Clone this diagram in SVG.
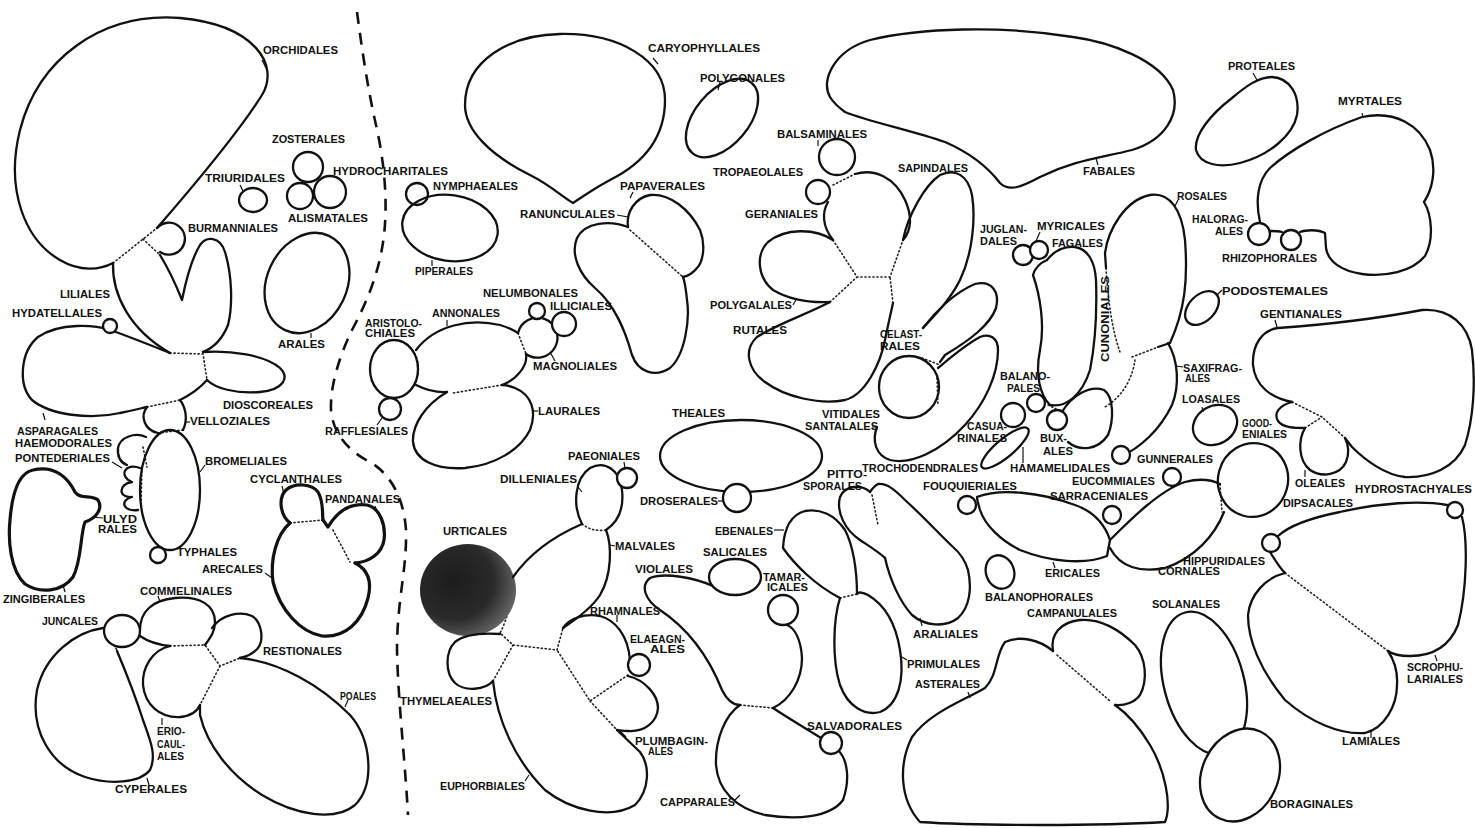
<svg xmlns="http://www.w3.org/2000/svg" width="1475" height="828" viewBox="0 0 1475 828">
<defs>
<style>
.o{fill:none;stroke:#111;stroke-width:2.3;stroke-linejoin:round;stroke-linecap:round}
.ob{fill:none;stroke:#111;stroke-width:3.2;stroke-linejoin:round;stroke-linecap:round}
.w{fill:#fff;stroke:#111;stroke-width:2.3}
.d{fill:none;stroke:#222;stroke-width:1.6;stroke-dasharray:1.2 2.8;stroke-linecap:round}
.k{fill:none;stroke:#111;stroke-width:1.2}
.t{font-family:"Liberation Sans",Arial,sans-serif;font-weight:bold;font-size:10px;fill:#111}
.sep{fill:none;stroke:#111;stroke-width:2.6;stroke-dasharray:12 9}
</style>
<radialGradient id="dark" cx="0.35" cy="0.4" r="0.7">
<stop offset="0" stop-color="#1c1c1c"/>
<stop offset="0.6" stop-color="#2a2a2a"/>
<stop offset="1" stop-color="#6a6a6a"/>
</radialGradient>
</defs>
<rect width="1475" height="828" fill="#fff"/>

<g id="connectors">
<path class="sep" d="M357,12 C362,50 368,90 376,125 C384,160 388,200 384,235 C380,270 368,300 352,330 C340,355 330,385 331,410 C333,435 350,452 370,462 C392,475 404,500 406,530 C407,570 397,600 397,650 C398,700 405,760 408,815"/>
<path class="d" d="M113,263 L157,228 M143,239 L160,255 M170,353 L203,354 L207,380 M147,407 L180,400 M158,433 L183,430 M142,467 L141,505 M143,447 L147,467"/>
<path class="d" d="M290,523 L323,520 M333,530 L350,562 M170,646 L205,645 L220,666 L240,658 M220,666 L200,705 M103,628 L117,650"/>
<path class="d" d="M630,230 L683,277 M518,333 L526,354 M502,385 L453,393 M410,347 A24,29 0 0,1 410,391 M530,306 L540,318"/>
<path class="d" d="M582,524 Q592,532 606,530 M513,577 Q512,610 500,633 L513,645 L557,650 L563,628 M513,645 L493,681 M628,675 L590,701 L557,650 M590,701 L617,730 M740,705 L773,708 M840,598 L857,594 M872,495 L878,525 M713,586 L738,596"/>
<path class="d" d="M833,185 L855,174 M833,240 L857,277 L890,277 L903,240 M830,302 L857,277 M893,303 L890,277 M922,358 L940,365 M937,378 L938,405"/>
<path class="d" d="M1106,268 C1108,300 1112,330 1120,352 M1132,357 L1158,347 M1135,360 C1133,375 1125,395 1105,407 M1220,484 L1222,512 M1292,402 L1322,417 L1345,438 M1305,428 L1322,417 M1388,651 L1285,573 M1217,751 L1240,735 M1057,655 L1110,701 M1048,405 L1062,412"/>
</g>

<g id="orchidales">
<path class="o" d="M157,228 C190,190 240,130 262,95 C280,65 255,25 180,18 C100,12 38,60 20,130 C5,190 25,240 60,260 C80,272 100,270 113,263"/>
<path class="k" d="M262,60 L266,68"/>
<text class="t" x="263" y="54" textLength="75" lengthAdjust="spacingAndGlyphs">ORCHIDALES</text>
</g>
<g id="burmanniales">
<path class="o" d="M157,228 A16,16 0 1,1 160,252"/>
<text class="t" x="188" y="232" textLength="90" lengthAdjust="spacingAndGlyphs">BURMANNIALES</text>
</g>
<g id="liliales">
<path class="o" d="M113,263 C112,295 130,330 170,353"/>
<path class="o" d="M160,255 C168,268 176,285 182,300 C186,280 192,258 200,245 C206,236 220,236 225,252 C232,275 233,305 228,325 C222,340 213,348 203,352"/>
<text class="t" x="60" y="298" textLength="50" lengthAdjust="spacingAndGlyphs">LILIALES</text>
</g>
<g id="asparagales">
<path class="o" d="M170,353 C150,345 125,335 110,330 C95,325 60,322 38,337 C20,352 18,385 32,400 C50,415 90,420 120,413 C135,410 142,408 147,407 M180,400 C190,395 200,388 207,380"/>
<path class="k" d="M43,413 L45,420"/>
<text class="t" x="17" y="435" textLength="81" lengthAdjust="spacingAndGlyphs">ASPARAGALES</text>
</g>
<g id="hydatellales">
<circle class="w" cx="110" cy="326" r="7"/>
<text class="t" x="12" y="317" textLength="90" lengthAdjust="spacingAndGlyphs">HYDATELLALES</text>
</g>
<g id="dioscoreales">
<path class="o" d="M203,352 C230,350 265,355 280,368 C290,378 283,390 260,392 C235,394 215,388 207,380"/>
<text class="t" x="223" y="409" textLength="90" lengthAdjust="spacingAndGlyphs">DIOSCOREALES</text>
</g>
<g id="velloziales">
<path class="o" d="M147,407 C140,416 144,430 158,433 M183,430 C188,420 186,408 180,400"/>
<path class="k" d="M186,422 L190,422"/>
<text class="t" x="190" y="425" textLength="80" lengthAdjust="spacingAndGlyphs">VELLOZIALES</text>
</g>
<g id="bromeliales">
<ellipse class="o" cx="170" cy="490" rx="30" ry="60"/>
<path class="k" d="M205,465 L200,472"/>
<text class="t" x="205" y="465" textLength="82" lengthAdjust="spacingAndGlyphs">BROMELIALES</text>
</g>
<g id="haemodorales">
<path class="o" d="M146,437 C135,432 120,437 118,448 C117,458 122,463 127,465"/>
<text class="t" x="15" y="447" textLength="97" lengthAdjust="spacingAndGlyphs">HAEMODORALES</text>
</g>
<g id="pontederiales">
<path class="o" d="M140,468 C125,462 118,476 132,482 C118,484 118,498 132,497 C120,500 122,512 138,510"/>
<path class="k" d="M112,462 L122,468"/>
<text class="t" x="15" y="462" textLength="95" lengthAdjust="spacingAndGlyphs">PONTEDERIALES</text>
</g>
<g id="philydrales">
<path class="k" d="M92,517 L103,518"/>
<text class="t" x="103" y="523" textLength="34" lengthAdjust="spacingAndGlyphs">ULYD</text>
<text class="t" x="98" y="533" textLength="39" lengthAdjust="spacingAndGlyphs">RALES</text>
</g>
<g id="typhales">
<circle class="w" cx="158" cy="555" r="8"/>
<text class="t" x="177" y="556" textLength="60" lengthAdjust="spacingAndGlyphs">TYPHALES</text>
</g>
<g id="zingiberales">
<path class="ob" d="M33,470 C55,465 68,478 75,492 C80,500 92,494 98,500 C103,508 97,518 85,522 C80,535 82,560 73,577 C62,592 40,594 25,584 C10,570 8,540 10,520 C12,495 18,473 33,470 Z"/>
<path class="k" d="M63,585 L65,592"/>
<text class="t" x="3" y="603" textLength="82" lengthAdjust="spacingAndGlyphs">ZINGIBERALES</text>
</g>
<g id="cyclanthales">
<path class="ob" d="M290,523 C280,515 278,498 286,490 C295,482 312,484 318,492 C324,502 322,515 323,520"/>
<path class="k" d="M282,486 L284,494"/>
<text class="t" x="250" y="483" textLength="92" lengthAdjust="spacingAndGlyphs">CYCLANTHALES</text>
</g>
<g id="pandanales">
<path class="ob" d="M323,520 L328,527 C338,510 352,503 367,505 C380,508 386,525 384,540 C382,553 370,562 355,563"/>
<path class="k" d="M375,506 L378,514"/>
<text class="t" x="325" y="503" textLength="75" lengthAdjust="spacingAndGlyphs">PANDANALES</text>
</g>
<g id="arecales">
<path class="ob" d="M290,523 C276,535 270,560 273,582 C280,610 300,632 322,636 C345,638 362,622 368,598 C372,582 369,570 355,563"/>
<path class="k" d="M265,573 L272,578"/>
<text class="t" x="202" y="573" textLength="61" lengthAdjust="spacingAndGlyphs">ARECALES</text>
</g>
<g id="juncales">
<ellipse class="w" cx="122" cy="631" rx="18" ry="16"/>
<text class="t" x="42" y="625" textLength="56" lengthAdjust="spacingAndGlyphs">JUNCALES</text>
</g>
<g id="commelinales">
<path class="o" d="M140,630 C140,612 152,600 175,598 C200,596 215,605 215,622 C215,632 210,638 205,645 M140,636 C150,643 160,645 170,646"/>
<path class="k" d="M158,596 L160,602"/>
<text class="t" x="140" y="595" textLength="92" lengthAdjust="spacingAndGlyphs">COMMELINALES</text>
</g>
<g id="restionales">
<path class="o" d="M212,628 C222,614 240,611 252,616 C262,622 264,640 258,648 C253,654 245,657 240,658"/>
<text class="t" x="263" y="655" textLength="79" lengthAdjust="spacingAndGlyphs">RESTIONALES</text>
</g>
<g id="eriocaulales">
<path class="o" d="M170,646 C152,650 142,668 143,685 C145,705 160,718 180,717 C190,716 197,712 200,705"/>
<path class="k" d="M162,718 L162,725"/>
<text class="t" x="157" y="735" textLength="28" lengthAdjust="spacingAndGlyphs">ERIO-</text>
<text class="t" x="157" y="748" textLength="28" lengthAdjust="spacingAndGlyphs">CAUL-</text>
<text class="t" x="157" y="760" textLength="27" lengthAdjust="spacingAndGlyphs">ALES</text>
</g>
<g id="cyperales">
<path class="o" d="M103,628 C75,632 45,655 37,690 C30,730 50,765 85,777 C110,785 140,783 150,770 C157,755 150,740 143,720 C135,695 125,670 117,651"/>
<path class="k" d="M147,778 L149,785"/>
<text class="t" x="115" y="793" textLength="72" lengthAdjust="spacingAndGlyphs">CYPERALES</text>
</g>
<g id="poales">
<path class="o" d="M240,658 C280,662 320,685 350,715 C372,740 375,785 355,805 C335,822 295,815 262,795 C230,775 207,745 200,715 L200,705"/>
<path class="k" d="M345,707 L348,700"/>
<text class="t" x="340" y="700" textLength="36" lengthAdjust="spacingAndGlyphs">POALES</text>
</g>
<g id="triuridales">
<ellipse class="o" cx="253" cy="200" rx="14" ry="12"/>
<path class="k" d="M240,185 L243,191"/>
<text class="t" x="205" y="182" textLength="80" lengthAdjust="spacingAndGlyphs">TRIURIDALES</text>
</g>
<g id="alismatales">
<circle class="w" cx="300" cy="196" r="13"/>
<text class="t" x="288" y="222" textLength="80" lengthAdjust="spacingAndGlyphs">ALISMATALES</text>
</g>
<g id="hydrocharitales">
<circle class="w" cx="330" cy="192" r="16"/>
<text class="t" x="333" y="175" textLength="115" lengthAdjust="spacingAndGlyphs">HYDROCHARITALES</text>
</g>
<g id="zosterales">
<circle class="w" cx="308" cy="167" r="15"/>
<text class="t" x="272" y="143" textLength="73" lengthAdjust="spacingAndGlyphs">ZOSTERALES</text>
</g>
<g id="arales">
<ellipse class="o" cx="307" cy="283" rx="40" ry="52" transform="rotate(25 307 283)"/>
<path class="k" d="M311,333 L311,338"/>
<text class="t" x="278" y="348" textLength="47" lengthAdjust="spacingAndGlyphs">ARALES</text>
</g>

<g id="nymphaeales">
<circle class="w" cx="417" cy="194" r="11"/>
<text class="t" x="433" y="190" textLength="85" lengthAdjust="spacingAndGlyphs">NYMPHAEALES</text>
</g>
<g id="piperales">
<ellipse class="o" cx="450" cy="228" rx="48" ry="33" transform="rotate(8 450 228)"/>
<path class="k" d="M432,260 L432,266"/>
<text class="t" x="415" y="275" textLength="58" lengthAdjust="spacingAndGlyphs">PIPERALES</text>
</g>
<g id="caryophyllales">
<path class="o" d="M573,203 C560,195 550,185 530,175 C490,155 465,130 465,105 C465,60 510,35 560,34 C620,33 665,60 665,100 C665,140 640,165 610,180 C595,188 585,195 573,203 Z"/>
<path class="k" d="M653,58 L658,64"/>
<text class="t" x="648" y="52" textLength="112" lengthAdjust="spacingAndGlyphs">CARYOPHYLLALES</text>
</g>
<g id="polygonales">
<ellipse class="o" cx="722" cy="118" rx="27" ry="46" transform="rotate(40 722 118)"/>
<path class="k" d="M720,82 L718,90"/>
<text class="t" x="700" y="82" textLength="85" lengthAdjust="spacingAndGlyphs">POLYGONALES</text>
</g>
<g id="ranunculales">
<path class="o" d="M628,227 C610,220 585,222 577,238 C570,255 580,275 595,288 C615,305 625,330 632,355 C638,372 655,378 670,368 C685,355 690,320 687,300 C686,290 685,282 683,277"/>
<path class="k" d="M617,215 L628,217"/>
<text class="t" x="520" y="218" textLength="95" lengthAdjust="spacingAndGlyphs">RANUNCULALES</text>
</g>
<g id="papaverales">
<path class="o" d="M628,227 C626,212 635,198 650,195 C670,193 690,210 700,230 C706,245 703,262 697,268 C693,273 688,276 683,277"/>
<path class="k" d="M633,192 L630,198"/>
<text class="t" x="620" y="190" textLength="85" lengthAdjust="spacingAndGlyphs">PAPAVERALES</text>
</g>
<g id="aristolochiales">
<ellipse class="o" cx="394" cy="369" rx="24" ry="29"/>
<text class="t" x="365" y="327" textLength="57" lengthAdjust="spacingAndGlyphs">ARISTOLO-</text>
<text class="t" x="365" y="337" textLength="50" lengthAdjust="spacingAndGlyphs">CHIALES</text>
</g>
<g id="rafflesiales">
<circle class="w" cx="390" cy="409" r="11"/>
<path class="k" d="M377,425 L382,418"/>
<text class="t" x="325" y="435" textLength="83" lengthAdjust="spacingAndGlyphs">RAFFLESIALES</text>
</g>
<g id="annonales">
<path class="o" d="M416,350 C435,325 470,318 500,325 C510,328 515,331 518,333 M526,354 C528,366 516,380 502,385 M447,392 C432,393 422,388 416,385"/>
<path class="k" d="M447,320 L447,326"/>
<text class="t" x="432" y="317" textLength="68" lengthAdjust="spacingAndGlyphs">ANNONALES</text>
</g>
<g id="magnoliales">
<path class="o" d="M518,333 A20,20 0 1,1 526,354"/>
<path class="k" d="M550,352 L555,361"/>
<text class="t" x="533" y="370" textLength="84" lengthAdjust="spacingAndGlyphs">MAGNOLIALES</text>
</g>
<g id="nelumbonales">
<circle class="w" cx="537" cy="311" r="8"/>
<text class="t" x="483" y="297" textLength="95" lengthAdjust="spacingAndGlyphs">NELUMBONALES</text>
</g>
<g id="illiciales">
<circle class="w" cx="564" cy="324" r="12"/>
<text class="t" x="550" y="310" textLength="62" lengthAdjust="spacingAndGlyphs">ILLICIALES</text>
</g>
<g id="laurales">
<path class="o" d="M447,392 C425,405 412,425 413,442 C415,460 435,470 465,468 C495,465 520,450 530,430 C537,412 532,395 515,388 C510,386 505,385 502,385"/>
<path class="k" d="M533,411 L538,411"/>
<text class="t" x="538" y="415" textLength="62" lengthAdjust="spacingAndGlyphs">LAURALES</text>
</g>
<g id="theales">
<ellipse class="o" cx="741" cy="456" rx="81" ry="36"/>
<text class="t" x="672" y="417" textLength="53" lengthAdjust="spacingAndGlyphs">THEALES</text>
</g>
<g id="droserales">
<circle class="w" cx="737" cy="498" r="14"/>
<path class="k" d="M718,501 L723,501"/>
<text class="t" x="640" y="505" textLength="78" lengthAdjust="spacingAndGlyphs">DROSERALES</text>
</g>
<g id="dilleniales">
<path class="o" d="M582,524 C572,505 575,478 590,468 C605,460 620,470 622,490 C624,508 618,522 606,530"/>
<path class="k" d="M578,487 L582,492"/>
<text class="t" x="500" y="483" textLength="77" lengthAdjust="spacingAndGlyphs">DILLENIALES</text>
</g>
<g id="paeoniales">
<circle class="w" cx="627" cy="478" r="10"/>
<path class="k" d="M624,462 L625,468"/>
<text class="t" x="568" y="460" textLength="72" lengthAdjust="spacingAndGlyphs">PAEONIALES</text>
</g>
<g id="urticales">
<ellipse cx="468" cy="590" rx="48" ry="46" fill="url(#dark)"/>
<text class="t" x="443" y="535" textLength="64" lengthAdjust="spacingAndGlyphs">URTICALES</text>
</g>
<g id="malvales">
<path class="o" d="M513,577 C525,560 545,540 582,524 M606,530 C612,545 612,575 600,595 C592,608 575,620 563,628"/>
<path class="k" d="M610,545 L615,546"/>
<text class="t" x="615" y="550" textLength="60" lengthAdjust="spacingAndGlyphs">MALVALES</text>
</g>
<g id="thymelaeales">
<path class="o" d="M493,681 C485,690 465,692 455,683 C445,673 445,652 455,642 C465,634 485,633 500,634"/>
<text class="t" x="400" y="705" textLength="92" lengthAdjust="spacingAndGlyphs">THYMELAEALES</text>
</g>
<g id="euphorbiales">
<path class="o" d="M493,681 C497,720 515,760 545,790 C570,810 610,820 635,805 C650,790 650,765 640,752 L617,730"/>
<path class="k" d="M525,781 L529,775"/>
<text class="t" x="440" y="790" textLength="85" lengthAdjust="spacingAndGlyphs">EUPHORBIALES</text>
</g>
<g id="rhamnales">
<path class="o" d="M563,628 C570,618 585,613 600,616 C615,620 628,635 630,660"/>
<path class="k" d="M617,615 L617,622"/>
<text class="t" x="590" y="615" textLength="70" lengthAdjust="spacingAndGlyphs">RHAMNALES</text>
</g>
<g id="elaeagnales">
<circle class="w" cx="639" cy="665" r="11"/>
<text class="t" x="630" y="643" textLength="55" lengthAdjust="spacingAndGlyphs">ELAEAGN-</text>
<text class="t" x="650" y="653" textLength="35" lengthAdjust="spacingAndGlyphs">ALES</text>
</g>
<g id="plumbaginales">
<path class="o" d="M628,676 C645,680 658,695 658,708 C657,722 645,732 628,731 C622,731 619,730 617,730"/>
<path class="k" d="M620,731 L626,737"/>
<text class="t" x="635" y="745" textLength="73" lengthAdjust="spacingAndGlyphs">PLUMBAGIN-</text>
<text class="t" x="648" y="755" textLength="25" lengthAdjust="spacingAndGlyphs">ALES</text>
</g>
<g id="violales">
<path class="o" d="M713,586 C695,578 665,572 650,578 C640,586 645,600 660,610 C690,630 710,660 722,690 C727,700 732,705 740,705 M773,708 C790,700 802,680 802,658 C801,640 795,628 787,625"/>
<text class="t" x="635" y="573" textLength="58" lengthAdjust="spacingAndGlyphs">VIOLALES</text>
</g>
<g id="salicales">
<ellipse class="w" cx="735" cy="577" rx="26" ry="18"/>
<text class="t" x="703" y="556" textLength="64" lengthAdjust="spacingAndGlyphs">SALICALES</text>
</g>
<g id="tamaricales">
<circle class="w" cx="783" cy="610" r="15"/>
<text class="t" x="763" y="581" textLength="42" lengthAdjust="spacingAndGlyphs">TAMAR-</text>
<text class="t" x="767" y="591" textLength="41" lengthAdjust="spacingAndGlyphs">ICALES</text>
</g>
<g id="capparales">
<path class="o" d="M740,705 C725,715 715,740 716,765 C718,790 735,808 765,815 C795,820 830,818 843,800 C850,780 848,760 838,750 M821,738 C805,728 788,718 773,708"/>
<path class="k" d="M735,800 L740,795"/>
<text class="t" x="660" y="806" textLength="75" lengthAdjust="spacingAndGlyphs">CAPPARALES</text>
</g>
<g id="salvadorales">
<circle class="w" cx="831" cy="743" r="11"/>
<text class="t" x="807" y="730" textLength="95" lengthAdjust="spacingAndGlyphs">SALVADORALES</text>
</g>
<g id="ebenales">
<path class="o" d="M783,548 C784,530 790,515 805,511 C820,508 835,515 845,530 C853,545 857,570 857,594 M783,548 C795,565 815,585 840,598"/>
<path class="k" d="M774,530 L784,530"/>
<text class="t" x="715" y="535" textLength="58" lengthAdjust="spacingAndGlyphs">EBENALES</text>
</g>
<g id="primulales">
<path class="o" d="M840,598 C833,620 832,660 840,685 C848,707 865,716 880,712 C898,705 905,680 900,650 C896,625 885,605 868,595 C862,592 858,592 857,594"/>
<path class="k" d="M902,657 L907,660"/>
<text class="t" x="907" y="668" textLength="73" lengthAdjust="spacingAndGlyphs">PRIMULALES</text>
</g>
<g id="pittosporales">
<path class="o" d="M870,492 C862,484 845,485 840,497 C836,512 845,530 860,540 C872,548 880,553 885,558"/>
<text class="t" x="827" y="478" textLength="40" lengthAdjust="spacingAndGlyphs">PITTO-</text>
<text class="t" x="803" y="490" textLength="59" lengthAdjust="spacingAndGlyphs">SPORALES</text>
</g>
<g id="araliales">
<path class="o" d="M885,558 C890,580 900,602 912,615 C925,626 945,628 958,618 C970,607 972,588 968,570 C965,560 960,553 953,547 C940,535 925,518 905,500 C895,490 887,483 878,484 C874,486 872,489 870,492"/>
<path class="k" d="M920,618 L922,626"/>
<text class="t" x="913" y="638" textLength="65" lengthAdjust="spacingAndGlyphs">ARALIALES</text>
</g>

<g id="fabales">
<path class="o" d="M830,97 C820,80 835,50 870,40 C920,28 1000,25 1073,37 C1110,42 1160,60 1173,90 C1180,115 1165,140 1132,150 C1100,158 1075,160 1040,177 C1025,185 1010,193 1000,183 C990,170 975,155 945,142 C910,130 870,122 845,112 C838,107 833,102 830,97 Z"/>
<path class="k" d="M1096,158 L1098,165"/>
<text class="t" x="1083" y="175" textLength="52" lengthAdjust="spacingAndGlyphs">FABALES</text>
</g>
<g id="balsaminales">
<circle class="w" cx="837" cy="157" r="18"/>
<path class="k" d="M818,140 L818,146"/>
<text class="t" x="777" y="138" textLength="90" lengthAdjust="spacingAndGlyphs">BALSAMINALES</text>
</g>
<g id="tropaeolales">
<circle class="w" cx="818" cy="192" r="12"/>
<text class="t" x="713" y="176" textLength="90" lengthAdjust="spacingAndGlyphs">TROPAEOLALES</text>
</g>
<g id="geraniales">
<path class="o" d="M855,174 C875,168 895,178 905,200 C912,215 912,230 903,240 M828,202 C822,212 822,226 833,240"/>
<text class="t" x="745" y="218" textLength="73" lengthAdjust="spacingAndGlyphs">GERANIALES</text>
</g>
<g id="sapindales">
<path class="o" d="M903,240 C908,215 925,185 940,175 C955,168 968,175 972,195 C976,220 972,255 960,280 C950,300 935,315 923,328"/>
<text class="t" x="898" y="172" textLength="70" lengthAdjust="spacingAndGlyphs">SAPINDALES</text>
</g>
<g id="polygalales">
<path class="o" d="M833,240 C815,228 785,228 768,242 C755,255 758,278 773,290 C790,300 810,303 830,302"/>
<path class="k" d="M793,305 L797,298"/>
<text class="t" x="710" y="309" textLength="82" lengthAdjust="spacingAndGlyphs">POLYGALALES</text>
</g>
<g id="rutales">
<path class="o" d="M830,302 C805,315 775,325 757,337 C743,350 748,370 765,382 C785,397 820,405 845,400 C865,395 880,365 885,340 C888,325 891,312 893,303"/>
<text class="t" x="733" y="334" textLength="54" lengthAdjust="spacingAndGlyphs">RUTALES</text>
</g>
<g id="celastrales">
<path class="o" d="M923,328 C935,312 955,292 975,284 C992,280 1000,292 996,308 C990,325 970,340 945,355 L940,362"/>
<text class="t" x="880" y="338" textLength="42" lengthAdjust="spacingAndGlyphs">CELAST-</text>
<text class="t" x="880" y="350" textLength="40" lengthAdjust="spacingAndGlyphs">RALES</text>
</g>
<g id="vitidales">
<ellipse class="o" cx="909" cy="387" rx="30" ry="31"/>
<text class="t" x="822" y="418" textLength="58" lengthAdjust="spacingAndGlyphs">VITIDALES</text>
</g>
<g id="santalales">
<path class="o" d="M877,427 C872,440 875,455 890,460 C910,465 940,452 965,425 C985,403 998,375 998,350 C998,338 990,333 980,337 C965,345 950,358 938,368"/>
<path class="k" d="M878,427 L872,427"/>
<text class="t" x="805" y="430" textLength="73" lengthAdjust="spacingAndGlyphs">SANTALALES</text>
</g>
<g id="juglandales">
<circle class="w" cx="1023" cy="255" r="10"/>
<text class="t" x="980" y="233" textLength="47" lengthAdjust="spacingAndGlyphs">JUGLAN-</text>
<text class="t" x="980" y="245" textLength="37" lengthAdjust="spacingAndGlyphs">DALES</text>
</g>
<g id="myricales">
<circle class="w" cx="1039" cy="250" r="9"/>
<path class="k" d="M1040,232 L1036,241"/>
<text class="t" x="1037" y="230" textLength="68" lengthAdjust="spacingAndGlyphs">MYRICALES</text>
</g>
<g id="fagales">
<path class="o" d="M1047,260 C1055,250 1065,246 1075,247 C1088,249 1095,262 1096,280 C1097,310 1095,345 1090,370 C1082,395 1066,408 1050,405 C1040,395 1035,375 1040,350 C1045,325 1040,295 1033,275 C1035,268 1040,263 1047,260"/>
<path class="k" d="M1080,248 L1085,252"/>
<text class="t" x="1052" y="247" textLength="51" lengthAdjust="spacingAndGlyphs">FAGALES</text>
</g>
<g id="cunoniales">
<text class="t" transform="translate(1109,362) rotate(-90)" x="0" y="0" textLength="86" lengthAdjust="spacingAndGlyphs">CUNONIALES</text>
</g>
<g id="balanopales">
<circle class="w" cx="1036" cy="403" r="9"/>
<text class="t" x="1000" y="380" textLength="50" lengthAdjust="spacingAndGlyphs">BALANO-</text>
<text class="t" x="1007" y="392" textLength="33" lengthAdjust="spacingAndGlyphs">PALES</text>
</g>
<g id="casuarinales">
<circle class="w" cx="1013" cy="415" r="12"/>
<text class="t" x="967" y="430" textLength="40" lengthAdjust="spacingAndGlyphs">CASUA-</text>
<text class="t" x="957" y="442" textLength="50" lengthAdjust="spacingAndGlyphs">RINALES</text>
</g>
<g id="trochodendrales">
<ellipse class="o" cx="1005" cy="448" rx="30" ry="9" transform="rotate(-40 1005 448)"/>
<text class="t" x="862" y="472" textLength="116" lengthAdjust="spacingAndGlyphs">TROCHODENDRALES</text>
</g>
<g id="hamamelidales">
<path class="o" d="M1062,412 C1072,395 1090,385 1104,390 C1114,397 1114,420 1108,435 C1098,450 1080,452 1068,442"/>
<path class="k" d="M1023,447 L1023,463"/>
<text class="t" x="1010" y="472" textLength="100" lengthAdjust="spacingAndGlyphs">HAMAMELIDALES</text>
</g>
<g id="buxales">
<circle class="w" cx="1057" cy="420" r="10"/>
<text class="t" x="1040" y="442" textLength="27" lengthAdjust="spacingAndGlyphs">BUX-</text>
<text class="t" x="1043" y="455" textLength="30" lengthAdjust="spacingAndGlyphs">ALES</text>
</g>
<g id="proteales">
<path class="o" d="M1272,77 C1290,78 1300,95 1297,115 C1293,135 1270,155 1240,163 C1220,168 1200,165 1196,150 C1194,135 1210,115 1232,98 C1245,87 1258,77 1272,77 Z"/>
<path class="k" d="M1253,73 L1257,80"/>
<text class="t" x="1228" y="70" textLength="67" lengthAdjust="spacingAndGlyphs">PROTEALES</text>
</g>
<g id="myrtales">
<path class="o" d="M1260,222 C1255,200 1258,180 1270,168 C1290,150 1325,130 1362,117 C1395,110 1420,125 1430,150 C1437,170 1432,190 1424,202 C1432,215 1434,240 1425,256 C1412,272 1385,277 1362,274 C1342,271 1328,262 1326,248 L1325,233 C1318,229 1305,230 1300,232 M1282,232 C1278,231 1273,231 1270,231"/>
<path class="k" d="M1362,113 L1363,118"/>
<text class="t" x="1338" y="105" textLength="64" lengthAdjust="spacingAndGlyphs">MYRTALES</text>
</g>
<g id="haloragales">
<circle class="w" cx="1259" cy="234" r="11"/>
<text class="t" x="1192" y="223" textLength="56" lengthAdjust="spacingAndGlyphs">HALORAG-</text>
<text class="t" x="1215" y="235" textLength="28" lengthAdjust="spacingAndGlyphs">ALES</text>
</g>
<g id="rhizophorales">
<circle class="w" cx="1291" cy="240" r="10"/>
<text class="t" x="1222" y="262" textLength="95" lengthAdjust="spacingAndGlyphs">RHIZOPHORALES</text>
</g>
<g id="rosales">
<path class="o" d="M1106,268 L1105,253 C1108,230 1125,200 1150,195 C1170,192 1182,210 1185,240 C1188,280 1185,310 1170,343 L1158,347"/>
<path class="k" d="M1178,200 L1175,206"/>
<text class="t" x="1177" y="200" textLength="50" lengthAdjust="spacingAndGlyphs">ROSALES</text>
</g>
<g id="saxifragales">
<path class="o" d="M1168,343 C1178,360 1180,385 1172,405 C1160,430 1140,448 1120,457"/>
<path class="k" d="M1175,366 L1183,367"/>
<text class="t" x="1183" y="372" textLength="59" lengthAdjust="spacingAndGlyphs">SAXIFRAG-</text>
<text class="t" x="1185" y="382" textLength="25" lengthAdjust="spacingAndGlyphs">ALES</text>
</g>
<g id="gunnerales">
<circle class="w" cx="1121" cy="455" r="9"/>
<text class="t" x="1137" y="463" textLength="76" lengthAdjust="spacingAndGlyphs">GUNNERALES</text>
</g>
<g id="podostemales">
<ellipse class="o" cx="1202" cy="308" rx="20" ry="13" transform="rotate(-45 1202 308)"/>
<path class="k" d="M1216,296 L1222,290"/>
<text class="t" x="1222" y="295" textLength="106" lengthAdjust="spacingAndGlyphs">PODOSTEMALES</text>
</g>
<g id="gentianales">
<path class="o" d="M1278,328 C1320,325 1370,320 1422,310 C1450,308 1468,325 1472,350 C1476,385 1473,420 1465,445 C1455,468 1430,478 1405,477 C1385,475 1365,460 1352,447 L1345,438 M1278,328 C1262,330 1252,345 1253,365 C1255,385 1270,398 1292,402"/>
<path class="k" d="M1275,320 L1277,327"/>
<text class="t" x="1260" y="318" textLength="82" lengthAdjust="spacingAndGlyphs">GENTIANALES</text>
</g>
<g id="goodeniales">
<path class="o" d="M1292,402 C1280,405 1273,413 1278,421 C1283,428 1295,428 1305,428"/>
<text class="t" x="1242" y="427" textLength="30" lengthAdjust="spacingAndGlyphs">GOOD-</text>
<text class="t" x="1242" y="438" textLength="45" lengthAdjust="spacingAndGlyphs">ENIALES</text>
</g>
<g id="oleales">
<path class="o" d="M1305,428 C1298,440 1298,460 1310,470 C1322,478 1340,475 1346,462 C1350,452 1348,444 1345,438"/>
<path class="k" d="M1305,470 L1305,477"/>
<text class="t" x="1295" y="487" textLength="50" lengthAdjust="spacingAndGlyphs">OLEALES</text>
</g>
<g id="loasales">
<ellipse class="o" cx="1215" cy="425" rx="23" ry="19" transform="rotate(-30 1215 425)"/>
<path class="k" d="M1202,407 L1203,412"/>
<text class="t" x="1182" y="403" textLength="58" lengthAdjust="spacingAndGlyphs">LOASALES</text>
</g>
<g id="dipsacales">
<ellipse class="o" cx="1253" cy="480" rx="35" ry="37" transform="rotate(15 1253 480)"/>
<text class="t" x="1283" y="507" textLength="70" lengthAdjust="spacingAndGlyphs">DIPSACALES</text>
</g>
<g id="cornales">
<path class="o" d="M1110,540 C1130,520 1160,490 1185,482 C1200,478 1212,480 1220,484 M1224,512 C1215,535 1195,558 1165,568 C1140,573 1120,567 1110,548"/>
<text class="t" x="1158" y="575" textLength="62" lengthAdjust="spacingAndGlyphs">CORNALES</text>
</g>
<g id="eucommiales">
<circle class="w" cx="1172" cy="477" r="9"/>
<text class="t" x="1072" y="485" textLength="83" lengthAdjust="spacingAndGlyphs">EUCOMMIALES</text>
</g>
<g id="sarraceniales">
<circle class="w" cx="1112" cy="515" r="9"/>
<text class="t" x="1050" y="500" textLength="98" lengthAdjust="spacingAndGlyphs">SARRACENIALES</text>
</g>
<g id="ericales">
<path class="o" d="M977,497 C1000,488 1040,492 1075,505 C1095,512 1105,525 1110,540 L1107,556 C1085,565 1050,562 1020,550 C1000,540 985,525 980,510 C978,503 977,500 977,497"/>
<path class="k" d="M1053,562 L1055,568"/>
<text class="t" x="1045" y="577" textLength="55" lengthAdjust="spacingAndGlyphs">ERICALES</text>
</g>
<g id="fouquieriales">
<circle class="w" cx="967" cy="505" r="9"/>
<text class="t" x="923" y="490" textLength="94" lengthAdjust="spacingAndGlyphs">FOUQUIERIALES</text>
</g>
<g id="balanophorales">
<ellipse class="o" cx="1000" cy="572" rx="14" ry="17" transform="rotate(-20 1000 572)"/>
<text class="t" x="985" y="601" textLength="108" lengthAdjust="spacingAndGlyphs">BALANOPHORALES</text>
</g>
<g id="campanulales">
<path class="o" d="M1053,651 C1050,635 1060,622 1080,620 C1100,618 1120,630 1135,645 C1146,658 1148,680 1140,695 C1135,702 1125,706 1115,705"/>
<text class="t" x="1027" y="617" textLength="90" lengthAdjust="spacingAndGlyphs">CAMPANULALES</text>
</g>
<g id="asterales">
<path class="o" d="M1053,651 C1040,640 1020,635 1005,642 C995,655 998,675 985,688 C965,700 930,712 912,737 C898,765 900,800 920,822 C980,826 1100,826 1165,822 C1172,805 1165,770 1150,745 C1138,725 1125,712 1115,705"/>
<path class="k" d="M968,692 L970,698"/>
<text class="t" x="915" y="688" textLength="65" lengthAdjust="spacingAndGlyphs">ASTERALES</text>
</g>
<g id="hippuridales">
<circle class="w" cx="1271" cy="543" r="9"/>
<text class="t" x="1183" y="565" textLength="82" lengthAdjust="spacingAndGlyphs">HIPPURIDALES</text>
</g>
<g id="scrophulariales">
<path class="o" d="M1278,536 C1290,525 1310,518 1340,512 C1380,503 1420,500 1447,505 M1462,517 C1468,540 1467,590 1458,625 C1450,645 1435,656 1410,656 C1400,656 1392,654 1388,651 M1270,552 C1275,560 1280,568 1285,573"/>
<path class="k" d="M1435,655 L1437,661"/>
<text class="t" x="1407" y="671" textLength="56" lengthAdjust="spacingAndGlyphs">SCROPHU-</text>
<text class="t" x="1407" y="683" textLength="56" lengthAdjust="spacingAndGlyphs">LARIALES</text>
</g>
<g id="hydrostachyales">
<circle class="w" cx="1455" cy="510" r="8"/>
<text class="t" x="1355" y="493" textLength="117" lengthAdjust="spacingAndGlyphs">HYDROSTACHYALES</text>
</g>
<g id="lamiales">
<path class="o" d="M1285,573 C1265,578 1250,595 1248,615 C1248,640 1260,670 1285,700 C1310,722 1340,735 1365,733 C1385,728 1397,705 1397,685 C1398,670 1394,660 1388,651"/>
<path class="k" d="M1371,731 L1371,738"/>
<text class="t" x="1342" y="745" textLength="58" lengthAdjust="spacingAndGlyphs">LAMIALES</text>
</g>
<g id="solanales">
<ellipse class="o" cx="1204" cy="683" rx="40" ry="73" transform="rotate(-15 1204 683)"/>
<text class="t" x="1152" y="608" textLength="68" lengthAdjust="spacingAndGlyphs">SOLANALES</text>
</g>
<g id="boraginales">
<ellipse class="w" cx="1240" cy="775" rx="38" ry="48" transform="rotate(25 1240 775)"/>
<text class="t" x="1270" y="808" textLength="83" lengthAdjust="spacingAndGlyphs">BORAGINALES</text>
</g>
</svg>
